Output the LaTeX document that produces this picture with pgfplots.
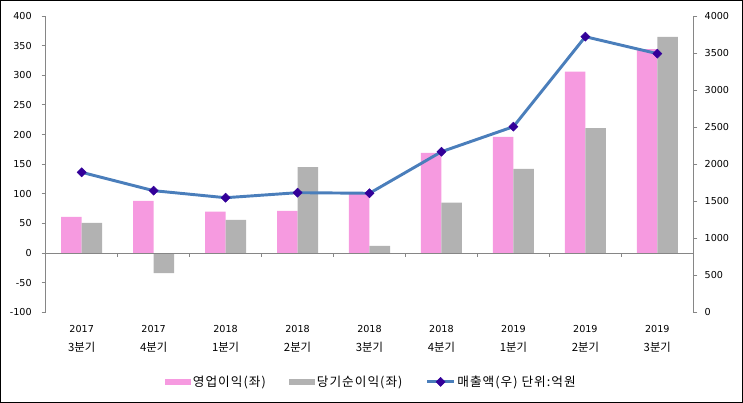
\documentclass[border=0pt]{standalone}
\usepackage{fontspec}
\usepackage{pgfplots}
\pgfplotsset{compat=1.18}
\setmainfont{DejaVu Sans}
\newfontfamily\kr{Noto Sans CJK KR}
\newfontfamily\krl[LetterSpace=8]{Noto Sans CJK KR}
\definecolor{pinkbar}{HTML}{F69AE0}
\definecolor{graybar}{HTML}{B2B2B2}
\definecolor{linec}{HTML}{4A7EBB}
\definecolor{markc}{HTML}{330099}
\definecolor{axisgray}{HTML}{868686}
\newcommand{\cat}[2]{#1\\{\kr\fontsize{8.5}{14.2}\selectfont #2분기}}
\begin{document}
\begin{tikzpicture}
\begin{axis}[
  at={(0,0)}, anchor=south west,
  scale only axis, width=485.7pt, height=222.2pt,
  xmin=-0.5, xmax=8.5, ymin=-100, ymax=400,
  ytick={-100,-50,...,400},
  xtick={0,...,8},
  xticklabels={\cat{2017}{3},\cat{2017}{4},\cat{2018}{1},\cat{2018}{2},\cat{2018}{3},\cat{2018}{4},\cat{2019}{1},\cat{2019}{2},\cat{2019}{3}},
  axis lines*=left,
  x axis line style={draw=none},
  y axis line style={-, draw=axisgray, line width=0.75pt},
  xtick style={draw=none},
  ytick style={draw=axisgray, line width=0.75pt},
  tick align=outside, major tick length=3pt,
  /pgf/number format/assume math mode=true,
  ticklabel style={font=\fontsize{7.2}{9}\selectfont},
  yticklabel style={xshift=-4pt},
  xticklabel style={align=center, font=\fontsize{7.2}{14.2}\selectfont, yshift=-3.3pt},
  ybar=0pt, bar width=15.4pt,
  legend columns=3,
  legend cell align=left,
  legend style={at={(0.503,-0.235)}, anchor=center, draw=none, fill=none,
    font=\krl\fontsize{9.5}{10}\selectfont, inner sep=0pt,
    nodes={inner sep=1.5pt},
    /tikz/every even column/.append style={column sep=16pt}},
]
\addplot[fill=pinkbar, draw=none,
  legend image code/.code={\fill[pinkbar] (0pt,-2.5pt) rectangle (19.3pt,2.5pt);}]
  coordinates {(0,61) (1,88) (2,70) (3,71) (4,100) (5,169) (6,196) (7,306) (8,344)};
\addplot[fill=graybar, draw=none,
  legend image code/.code={\fill[graybar] (0pt,-2.5pt) rectangle (19.3pt,2.5pt);}]
  coordinates {(0,51) (1,-34) (2,56) (3,145) (4,12) (5,85) (6,142) (7,211) (8,365)};
\addlegendimage{legend image code/.code={
  \draw[linec, line width=2.2pt] (0pt,0pt) -- (20pt,0pt);
  \fill[markc] (10pt,0pt) ++(0,3.4pt) -- ++(3.4pt,-3.4pt) -- ++(-3.4pt,-3.4pt) -- ++(-3.4pt,3.4pt) -- cycle;}}
\legend{영업이익(좌),당기순이익(좌),매출액(우) 단위:억원}
\draw[axisgray, line width=0.75pt] (axis cs:-0.5,0) -- (axis cs:8.5,0);
\pgfplotsinvokeforeach{0.5,1.5,2.5,3.5,4.5,5.5,6.5,7.5}{
  \draw[axisgray, line width=0.75pt] (axis cs:#1,0) -- ([yshift=-3pt]axis cs:#1,0);
}
\end{axis}
\begin{axis}[
  at={(0,0)}, anchor=south west,
  scale only axis, width=485.7pt, height=222.2pt,
  xmin=-0.5, xmax=8.5, ymin=0, ymax=4000,
  ytick={0,500,...,4000},
  axis y line*=right, axis x line=none,
  y axis line style={-, draw=axisgray, line width=0.75pt},
  ytick style={draw=axisgray, line width=0.75pt},
  tick align=outside, major tick length=3pt,
  /pgf/number format/assume math mode=true,
  /pgf/number format/1000 sep={},
  ticklabel style={font=\fontsize{7.2}{9}\selectfont},
  yticklabel style={xshift=2pt},
]
\addplot[linec, line width=2.2pt, mark=square*, mark size=2.4pt,
  mark options={rotate=45, fill=markc, draw=markc, line width=0.4pt}]
  coordinates {(0,1890) (1,1642) (2,1547) (3,1615) (4,1607) (5,2168) (6,2506) (7,3721) (8,3492)};
\end{axis}
\draw[black, line width=0.75pt] (-33.9pt,-67.65pt) rectangle (522.6pt,233.85pt);
\end{tikzpicture}
\end{document}
